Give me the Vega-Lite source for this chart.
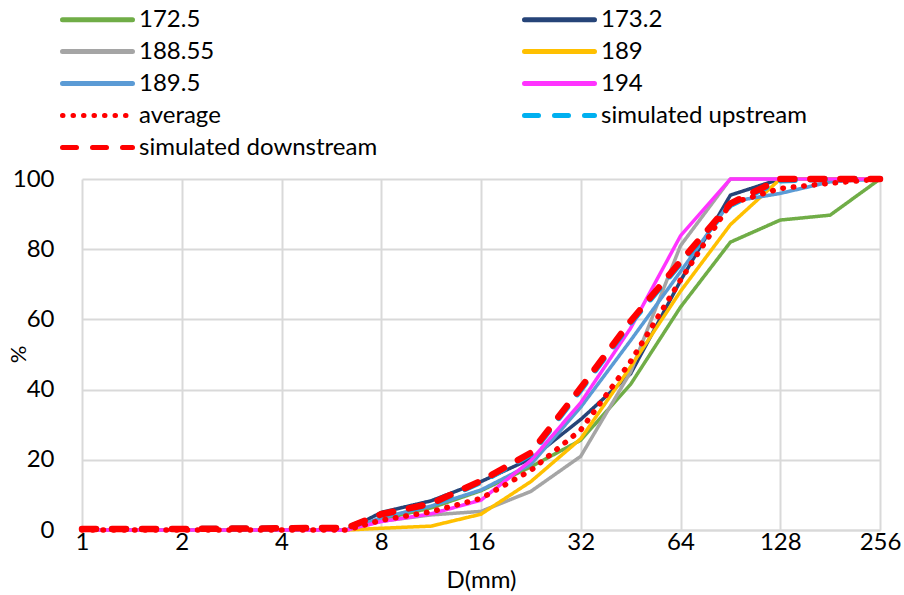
{
  "$schema": "https://vega.github.io/schema/vega-lite/v6.json",
  "width": 798,
  "height": 351,
  "autosize": {"type": "none"},
  "padding": {"left": 82, "top": 179, "right": 24, "bottom": 65},
  "config": {
    "view": {"stroke": null},
    "font": "Lato",
    "axis": {"labelFont": "Lato", "titleFont": "Lato", "labelColor": "#000", "titleColor": "#000", "gridColor": "#d9d9d9", "gridWidth": 2, "ticks": false},
    "legend": {"orient": "none", "legendX": -1, "legendY": -176, "columns": 2, "direction": "horizontal", "title": null, "symbolType": "M-2.5,0H2.5", "symbolSize": 784, "symbolStrokeWidth": 5, "labelFontSize": 24, "labelFont": "Lato", "labelColor": "#000", "labelOffset": 25, "labelLimit": 500, "rowPadding": 3, "columnPadding": 136}
  },
  "data": {"values": [
    {"s":"172.5","d":1,"p":0},{"s":"172.5","d":2,"p":0},{"s":"172.5","d":4,"p":0},{"s":"172.5","d":6.3,"p":0},{"s":"172.5","d":8,"p":3},{"s":"172.5","d":11.31,"p":6.3},{"s":"172.5","d":16,"p":11.2},{"s":"172.5","d":22.63,"p":18},{"s":"172.5","d":32,"p":25.6},{"s":"172.5","d":45.25,"p":41.5},{"s":"172.5","d":64,"p":63.5},{"s":"172.5","d":90.51,"p":82},{"s":"172.5","d":128,"p":88.3},{"s":"172.5","d":181.02,"p":89.7},{"s":"172.5","d":256,"p":100},
    {"s":"173.2","d":1,"p":0},{"s":"173.2","d":2,"p":0},{"s":"173.2","d":4,"p":0},{"s":"173.2","d":6.3,"p":0},{"s":"173.2","d":8,"p":5},{"s":"173.2","d":11.31,"p":8.3},{"s":"173.2","d":16,"p":13.8},{"s":"173.2","d":22.63,"p":20.3},{"s":"173.2","d":32,"p":31.5},{"s":"173.2","d":45.25,"p":44.5},{"s":"173.2","d":64,"p":71},{"s":"173.2","d":90.51,"p":95.4},{"s":"173.2","d":128,"p":100},{"s":"173.2","d":181.02,"p":100},{"s":"173.2","d":256,"p":100},
    {"s":"188.55","d":1,"p":0},{"s":"188.55","d":2,"p":0},{"s":"188.55","d":4,"p":0},{"s":"188.55","d":6.3,"p":0},{"s":"188.55","d":8,"p":2.5},{"s":"188.55","d":11.31,"p":4.3},{"s":"188.55","d":16,"p":5.3},{"s":"188.55","d":22.63,"p":11},{"s":"188.55","d":32,"p":21},{"s":"188.55","d":45.25,"p":45},{"s":"188.55","d":64,"p":81},{"s":"188.55","d":90.51,"p":100},{"s":"188.55","d":128,"p":100},{"s":"188.55","d":181.02,"p":100},{"s":"188.55","d":256,"p":100},
    {"s":"189","d":1,"p":0},{"s":"189","d":2,"p":0},{"s":"189","d":4,"p":0},{"s":"189","d":6.3,"p":0},{"s":"189","d":8,"p":0.5},{"s":"189","d":11.31,"p":1.1},{"s":"189","d":16,"p":4.5},{"s":"189","d":22.63,"p":13.8},{"s":"189","d":32,"p":26},{"s":"189","d":45.25,"p":46.5},{"s":"189","d":64,"p":68},{"s":"189","d":90.51,"p":87},{"s":"189","d":128,"p":100},{"s":"189","d":181.02,"p":100},{"s":"189","d":256,"p":100},
    {"s":"189.5","d":1,"p":0},{"s":"189.5","d":2,"p":0},{"s":"189.5","d":4,"p":0},{"s":"189.5","d":6.3,"p":0},{"s":"189.5","d":8,"p":3.5},{"s":"189.5","d":11.31,"p":6.8},{"s":"189.5","d":16,"p":11.4},{"s":"189.5","d":22.63,"p":18.7},{"s":"189.5","d":32,"p":35},{"s":"189.5","d":45.25,"p":54},{"s":"189.5","d":64,"p":73.6},{"s":"189.5","d":90.51,"p":93.5},{"s":"189.5","d":128,"p":95.9},{"s":"189.5","d":181.02,"p":99.2},{"s":"189.5","d":256,"p":100},
    {"s":"194","d":1,"p":0},{"s":"194","d":2,"p":0},{"s":"194","d":4,"p":0},{"s":"194","d":6.3,"p":0},{"s":"194","d":8,"p":2.4},{"s":"194","d":11.31,"p":4.6},{"s":"194","d":16,"p":8.5},{"s":"194","d":22.63,"p":19.8},{"s":"194","d":32,"p":36.3},{"s":"194","d":45.25,"p":57.5},{"s":"194","d":64,"p":83.8},{"s":"194","d":90.51,"p":100},{"s":"194","d":128,"p":100},{"s":"194","d":181.02,"p":100},{"s":"194","d":256,"p":100},
    {"s":"average","d":1,"p":0},{"s":"average","d":2,"p":0},{"s":"average","d":4,"p":0},{"s":"average","d":6.3,"p":0},{"s":"average","d":8,"p":2.8},{"s":"average","d":11.31,"p":5.2},{"s":"average","d":16,"p":9},{"s":"average","d":22.63,"p":17},{"s":"average","d":32,"p":28.5},{"s":"average","d":45.25,"p":48},{"s":"average","d":64,"p":71.2},{"s":"average","d":90.51,"p":93},{"s":"average","d":128,"p":97.3},{"s":"average","d":181.02,"p":98.8},{"s":"average","d":256,"p":100},
    {"s":"simulated upstream","d":1,"p":0.3},{"s":"simulated upstream","d":2,"p":0.3},{"s":"simulated upstream","d":4,"p":0.5},{"s":"simulated upstream","d":6.3,"p":0.6},{"s":"simulated upstream","d":8,"p":4.3},{"s":"simulated upstream","d":11.31,"p":7.2},{"s":"simulated upstream","d":16,"p":13.7},{"s":"simulated upstream","d":22.63,"p":21.6},{"s":"simulated upstream","d":32,"p":40},{"s":"simulated upstream","d":45.25,"p":59},{"s":"simulated upstream","d":64,"p":76},{"s":"simulated upstream","d":90.51,"p":92.6},{"s":"simulated upstream","d":128,"p":99.6},{"s":"simulated upstream","d":181.02,"p":100},{"s":"simulated upstream","d":256,"p":100},
    {"s":"simulated downstream","d":1,"p":0.3},{"s":"simulated downstream","d":2,"p":0.3},{"s":"simulated downstream","d":4,"p":0.5},{"s":"simulated downstream","d":6.3,"p":0.6},{"s":"simulated downstream","d":8,"p":4.5},{"s":"simulated downstream","d":11.31,"p":7.5},{"s":"simulated downstream","d":16,"p":14},{"s":"simulated downstream","d":22.63,"p":22},{"s":"simulated downstream","d":32,"p":40.5},{"s":"simulated downstream","d":45.25,"p":59.5},{"s":"simulated downstream","d":64,"p":76.5},{"s":"simulated downstream","d":90.51,"p":93},{"s":"simulated downstream","d":128,"p":100},{"s":"simulated downstream","d":181.02,"p":100},{"s":"simulated downstream","d":256,"p":100}
  ]},
  "encoding": {
    "x": {"field": "d", "type": "quantitative",
      "scale": {"type": "log", "base": 2, "domain": [1, 256]},
      "axis": {"values": [1,2,4,8,16,32,64,128,256], "format": "d", "title": "D(mm)", "labelFontSize": 24, "titleFontSize": 24, "titleFontWeight": "normal", "labelPadding": 0, "titlePadding": 14, "domainColor": "#d9d9d9", "domainWidth": 2, "labelFlush": false}},
    "y": {"field": "p", "type": "quantitative",
      "scale": {"domain": [0, 100]},
      "axis": {"values": [0,20,40,60,80,100], "title": "%", "labelFontSize": 24, "titleFontSize": 22, "titleFontWeight": "normal", "labelPadding": 28, "titleX": -64, "titleY": 175, "titleAlign": "center", "titleBaseline": "middle", "domain": false}},
    "color": {"field": "s", "type": "nominal",
      "scale": {"domain": ["172.5","173.2","188.55","189","189.5","194","average","simulated upstream","simulated downstream"],
                "range": ["#70ad47","#264478","#a5a5a5","#ffc000","#5b9bd5","#ff33ff","#ff0000","#00b0f0","#ff0000"]},
      "legend": {"encode": {"symbols": {"update": {"strokeCap": {"value": "round"}}}}}},
    "strokeDash": {"field": "s", "type": "nominal",
      "scale": {"domain": ["172.5","173.2","188.55","189","189.5","194","average","simulated upstream","simulated downstream"],
                "range": [[1,0],[1,0],[1,0],[1,0],[1,0],[1,0],[0.5,10],[14,16],[14,16]]},
      "legend": {"encode": {"symbols": {"update": {"strokeCap": {"value": "round"}}}}}}
  },
  "layer": [
    {"transform": [{"filter": {"field": "s", "oneOf": ["172.5","173.2","188.55","189","189.5","194"]}}],
     "mark": {"type": "line", "strokeWidth": 3.5, "strokeCap": "round", "strokeJoin": "round"}},
    {"transform": [{"filter": {"field": "s", "equal": "simulated upstream"}}],
     "mark": {"type": "line", "strokeWidth": 6, "strokeCap": "round"}},
    {"transform": [{"filter": {"field": "s", "equal": "average"}}],
     "mark": {"type": "line", "strokeWidth": 5.5, "strokeCap": "round"}},
    {"transform": [{"filter": {"field": "s", "equal": "simulated downstream"}}],
     "mark": {"type": "line", "strokeWidth": 6.5, "strokeCap": "round"}}
  ]
}
